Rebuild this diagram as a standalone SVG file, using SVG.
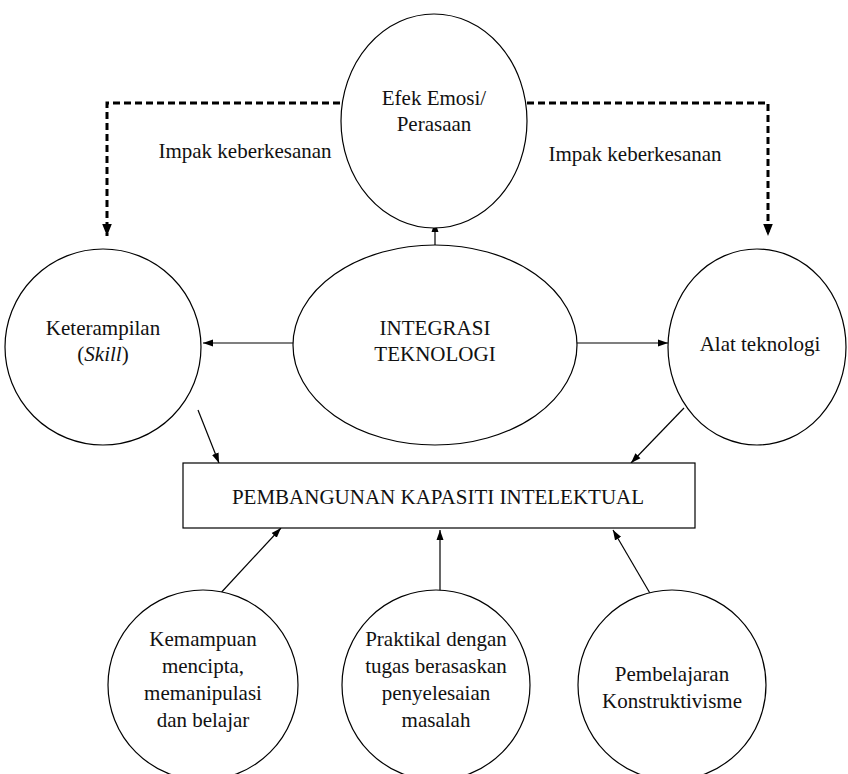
<svg xmlns="http://www.w3.org/2000/svg" width="848" height="774" viewBox="0 0 848 774">
<style>
.n{fill:#fff;stroke:#000;stroke-width:1.2}
.t{font-family:'Liberation Serif','DejaVu Serif',serif;font-size:21px;fill:#111;text-anchor:middle}
.c{stroke:#000;stroke-width:1.2;fill:none}
.d{stroke:#000;stroke-width:3;fill:none;stroke-dasharray:7 4}
</style>
<defs>
<marker id="a" viewBox="0 0 10 10" refX="10" refY="5" markerWidth="10" markerHeight="10" markerUnits="userSpaceOnUse" orient="auto"><path d="M0,1.5L10,5L0,8.5z" fill="#000"/></marker>
<marker id="b" viewBox="0 0 10 10" refX="10" refY="5" markerWidth="12" markerHeight="12" markerUnits="userSpaceOnUse" orient="auto"><path d="M0,1L10,5L0,9z" fill="#000"/></marker>
</defs>
<rect width="848" height="774" fill="#fff"/>
<g id="connectors">
<path class="d" d="M340,103H107V236" marker-end="url(#b)"/>
<path class="d" d="M527,103H768V236" marker-end="url(#b)"/>
<path class="c" d="M435,245V222" marker-end="url(#a)"/>
<path class="c" d="M293,343H203" marker-end="url(#a)"/>
<path class="c" d="M577,343H668" marker-end="url(#a)"/>
<path class="c" d="M198,410L219,463" marker-end="url(#a)"/>
<path class="c" d="M684,408L631,463" marker-end="url(#a)"/>
<path class="c" d="M218,596L281,528" marker-end="url(#a)"/>
<path class="c" d="M440,596V530" marker-end="url(#a)"/>
<path class="c" d="M651,595L613,530" marker-end="url(#a)"/>
<text class="t" x="245" y="158">Impak keberkesanan</text>
<text class="t" x="635" y="161">Impak keberkesanan</text>
</g>
<g id="efek"><ellipse class="n" cx="434" cy="121" rx="93" ry="107"/><text class="t" x="434" y="105">Efek Emosi/</text><text class="t" x="434" y="131">Perasaan</text></g>
<g id="keterampilan"><ellipse class="n" cx="103" cy="347" rx="98" ry="98"/><text class="t" x="103" y="335">Keterampilan</text><text class="t" x="103" y="361">(<tspan font-style="italic">Skill</tspan>)</text></g>
<g id="integrasi"><ellipse class="n" cx="435" cy="345" rx="142" ry="100"/><text class="t" x="435" y="335">INTEGRASI</text><text class="t" x="435" y="361">TEKNOLOGI</text></g>
<g id="alat"><ellipse class="n" cx="757" cy="347" rx="89" ry="98"/><text class="t" x="760" y="351">Alat teknologi</text></g>
<g id="pembangunan"><rect class="n" x="183" y="463" width="512" height="65"/><text class="t" x="438" y="504">PEMBANGUNAN KAPASITI INTELEKTUAL</text></g>
<g id="kemampuan"><ellipse class="n" cx="203" cy="685" rx="95" ry="95"/><text class="t" x="203" y="646">Kemampuan</text><text class="t" x="203" y="673">mencipta,</text><text class="t" x="203" y="700">memanipulasi</text><text class="t" x="203" y="727">dan belajar</text></g>
<g id="praktikal"><ellipse class="n" cx="436" cy="685" rx="94" ry="95"/><text class="t" x="436" y="646">Praktikal dengan</text><text class="t" x="436" y="673">tugas berasaskan</text><text class="t" x="436" y="700">penyelesaian</text><text class="t" x="436" y="727">masalah</text></g>
<g id="pembelajaran"><ellipse class="n" cx="672" cy="685" rx="94" ry="95"/><text class="t" x="672" y="681">Pembelajaran</text><text class="t" x="672" y="708">Konstruktivisme</text></g>
</svg>
